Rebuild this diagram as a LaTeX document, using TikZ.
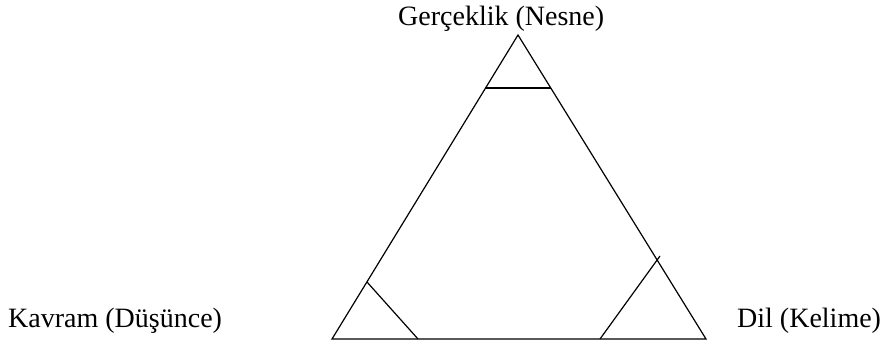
\documentclass[tikz,border=0pt]{standalone}
\usepackage{fontspec}
\setmainfont{Liberation Serif}
\begin{document}
\begin{tikzpicture}[x=1pt,y=-1pt,
  edge/.style={line width=1.2pt, line join=miter},
  lbl/.style={font=\fontsize{28}{32}\selectfont, inner sep=0pt, anchor=base west}]
\useasboundingbox (0,0) rectangle (886,342);
\coordinate (A) at (518,35);
\coordinate (B) at (332,339);
\coordinate (C) at (706,339);
\coordinate (t1) at (485,88);
\coordinate (t2) at (551,88);
\coordinate (l1) at (367,282);
\coordinate (l2) at (418,339);
\coordinate (r1) at (600,339);
\coordinate (r2) at (660,256);
\draw[edge] (A) -- (B) -- (C) -- cycle;
\draw[edge] (t1) -- (t2);
\draw[edge] (l1) -- (l2);
\draw[edge] (r1) -- (r2);
\node[lbl] (top) at (398,26) {Gerçeklik (Nesne)};
\node[lbl] (left) at (8,327) {Kavram (Düşünce)};
\node[lbl] (right) at (737,327) {Dil (Kelime)};
\end{tikzpicture}
\end{document}
